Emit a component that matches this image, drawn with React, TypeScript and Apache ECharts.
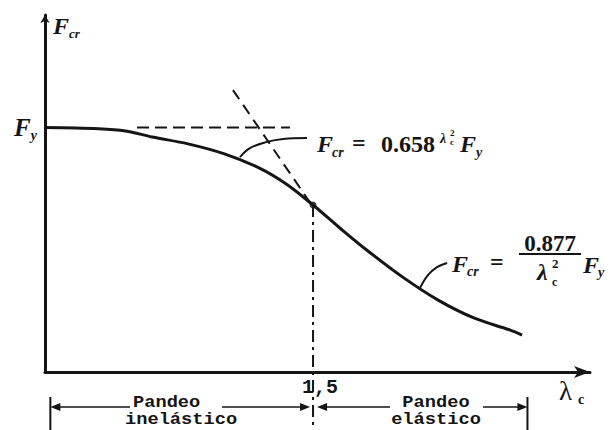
import React, { useEffect, useRef } from "react";
import * as echarts from "echarts";

// Column curve (x: slenderness λc, y: Fcr / Fy)
const lambdaC = [0, 0.3, 0.45, 0.6, 0.8, 1.0, 1.2, 1.35, 1.5, 1.65, 1.8, 2.0, 2.2, 2.4, 2.6, 2.67];
const fcrRatio = [1.0, 0.995, 0.986, 0.961, 0.933, 0.893, 0.834, 0.769, 0.683, 0.589, 0.499, 0.389, 0.294, 0.221, 0.172, 0.151];

// Construction lines
const plateauDashX = [0.515, 1.371];
const plateauDashY = [1.0, 1.0];
const tangentX = [1.052, 1.5];
const tangentY = [1.153, 0.675];
const limitLambda = 1.5;
const limitRatio = 0.683;
const limitLineBottom = -0.24;

// Leader lines to the formulas
const leaderInelasticX = [1.091, 1.147, 1.243, 1.332, 1.466];
const leaderInelasticY = [0.879, 0.916, 0.941, 0.953, 0.957];
const leaderElasticX = [2.099, 2.144, 2.194, 2.25];
const leaderElasticY = [0.344, 0.397, 0.429, 0.446];

// Axis ticks / labels
const xTickValues = [1.5];
const xTickLabels = ["1,5"];
const yTickValues = [1];

// Range markers (inelastic / elastic buckling)
const rangeStart = 0.03;
const rangeEnd = 2.7;

const zip = (xs: number[], ys: number[]) => xs.map((x, i) => [x, ys[i]]);

const INK = "#151515";
const SERIF = "'Liberation Serif', 'DejaVu Serif', serif";
const MONO = "'Liberation Mono', 'DejaVu Sans Mono', monospace";

export default function App() {
  const ref = useRef<HTMLDivElement>(null);

  useEffect(() => {
    if (!ref.current) return;
    const chart = echarts.init(ref.current, undefined, { renderer: "svg" });
    const option: any = {
      animation: false,
      backgroundColor: "#ffffff",
      grid: { left: 45, right: 24, top: 15, bottom: 58, containLabel: false },
      xAxis: {
        type: "value",
        min: 0,
        max: 3.05,
        splitLine: { show: false },
        axisTick: { show: false },
        axisLine: {
          show: true,
          onZero: false,
          lineStyle: { color: INK, width: 3 },
          symbol: ["none", "arrow"],
          symbolSize: [9, 16],
        },
        axisLabel: {
          show: true,
          customValues: xTickValues,
          formatter: (v: number) => xTickLabels[xTickValues.indexOf(v)] ?? "",
          fontFamily: MONO,
          fontWeight: "bold",
          fontSize: 20,
          color: INK,
          margin: 5,
          padding: [0, 0, 0, 14],
        },
      },
      yAxis: {
        type: "value",
        min: 0,
        max: 1.46,
        splitLine: { show: false },
        axisTick: { show: false },
        axisLine: {
          show: true,
          onZero: false,
          lineStyle: { color: INK, width: 3 },
          symbol: ["none", "arrow"],
          symbolSize: [7, 8],
        },
        axisLabel: {
          show: true,
          customValues: yTickValues,
          formatter: () => "{F|F}{s|y}",
          margin: 8,
          rich: {
            F: { fontFamily: SERIF, fontStyle: "italic", fontWeight: "bold", fontSize: 25, color: INK, lineHeight: 30, verticalAlign: "middle" },
            s: { fontFamily: SERIF, fontStyle: "italic", fontWeight: "bold", fontSize: 14, color: INK, lineHeight: 14, verticalAlign: "bottom" },
          },
        },
      },
      series: [
        {
          name: "Fcr",
          type: "line",
          data: zip(lambdaC, fcrRatio),
          smooth: 0.35,
          symbol: "none",
          lineStyle: { color: INK, width: 3 },
        },
        {
          type: "line",
          data: zip(plateauDashX, plateauDashY),
          symbol: "none",
          lineStyle: { color: INK, width: 2, type: [12, 6] },
        },
        {
          type: "line",
          data: zip(tangentX, tangentY),
          symbol: "none",
          lineStyle: { color: INK, width: 2, type: [11, 7] },
        },
        {
          type: "line",
          clip: false,
          data: [
            [limitLambda, limitRatio],
            [limitLambda, limitLineBottom],
          ],
          symbol: "none",
          lineStyle: { color: INK, width: 2, type: [12, 5, 3, 5] },
        },
        {
          type: "scatter",
          data: [[limitLambda, limitRatio]],
          symbolSize: 7,
          itemStyle: { color: INK },
        },
        {
          type: "line",
          data: zip(leaderInelasticX, leaderInelasticY),
          smooth: 0.4,
          symbol: "none",
          lineStyle: { color: INK, width: 2 },
        },
        {
          type: "line",
          data: zip(leaderElasticX, leaderElasticY),
          smooth: 0.4,
          symbol: "none",
          lineStyle: { color: INK, width: 2 },
        },
      ],
    };
    chart.setOption(option);

    const px = (l: number) => chart.convertToPixel({ gridIndex: 0 }, [l, 0])[0] as number;
    const pL = px(rangeStart);
    const pM = px(limitLambda);
    const pR = px(rangeEnd);
    const dimY = 407;

    const txt = (
      x: number,
      y: number,
      text: string,
      size: number,
      opts: any = {}
    ) => ({
      type: "text",
      x,
      y,
      scaleX: opts.sx ?? 1,
      silent: true,
      style: {
        text,
        fontSize: size,
        fontFamily: opts.font ?? SERIF,
        fontStyle: opts.italic ? "italic" : "normal",
        fontWeight: opts.bold === false ? "normal" : "bold",
        fill: INK,
        align: opts.align ?? "left",
        verticalAlign: "middle",
      },
    });
    const seg = (x1: number, y1: number, x2: number, y2: number, w = 1.6) => ({
      type: "line",
      silent: true,
      shape: { x1, y1, x2, y2 },
      style: { stroke: INK, lineWidth: w },
    });
    const head = (tipX: number, dir: number) => ({
      type: "polygon",
      silent: true,
      shape: {
        points: [
          [tipX, dimY],
          [tipX - dir * 10, dimY - 4],
          [tipX - dir * 10, dimY + 4],
        ],
      },
      style: { fill: INK },
    });

    const graphic = [
      // axis titles
      txt(53, 26, "F", 24, { italic: true }),
      txt(69, 33, "cr", 13, { italic: true }),
      txt(559, 391, "λ", 27, { bold: false }),
      txt(578, 399, "c", 14, {}),

      // inelastic formula: Fcr = 0.658^(λc²) Fy
      txt(317, 144, "F", 24, { italic: true }),
      txt(332, 152, "cr", 14, { italic: true }),
      txt(352, 143, "=", 24, {}),
      txt(381, 144, "0.658", 24, {}),
      txt(440, 138, "λ", 14, { italic: true }),
      txt(450, 133, "2", 9, {}),
      txt(450, 142, "c", 9, {}),
      txt(460, 144, "F", 24, { italic: true }),
      txt(476, 152, "y", 14, { italic: true }),

      // elastic formula: Fcr = 0.877 / λc² Fy
      txt(452, 264, "F", 24, { italic: true }),
      txt(467, 271, "cr", 14, { italic: true }),
      txt(490, 262, "=", 24, {}),
      txt(550, 243, "0.877", 23, { align: "center" }),
      seg(519, 254, 581, 254, 2),
      txt(537, 272, "λ", 24, { italic: true }),
      txt(552, 263, "2", 13, {}),
      txt(552, 282, "c", 12, {}),
      txt(583, 265, "F", 24, { italic: true }),
      txt(598, 272, "y", 14, { italic: true }),

      // range markers
      seg(pL, 397, pL, 430, 2),
      head(pL, -1),
      seg(pL + 5, dimY, 130, dimY),
      txt(133, 402, "Pandeo", 17, { font: MONO, sx: 1.1 }),
      txt(125, 419, "inelástico", 17, { font: MONO, sx: 1.1 }),
      seg(222, dimY, pM - 8, dimY),
      head(pM - 3, 1),
      head(pM + 4, -1),
      seg(pM + 8, dimY, 390, dimY),
      txt(436, 402, "Pandeo", 17, { font: MONO, align: "center", sx: 1.1 }),
      txt(436, 419, "elástico", 17, { font: MONO, align: "center", sx: 1.1 }),
      seg(483, dimY, pR - 5, dimY),
      head(pR, 1),
      seg(pR, 397, pR, 430, 2),
    ];
    chart.setOption({ graphic });

    return () => chart.dispose();
  }, []);

  return (
    <div
      ref={ref}
      style={{ position: "fixed", left: 0, top: 0, width: 614, height: 430, background: "#fff" }}
    />
  );
}
